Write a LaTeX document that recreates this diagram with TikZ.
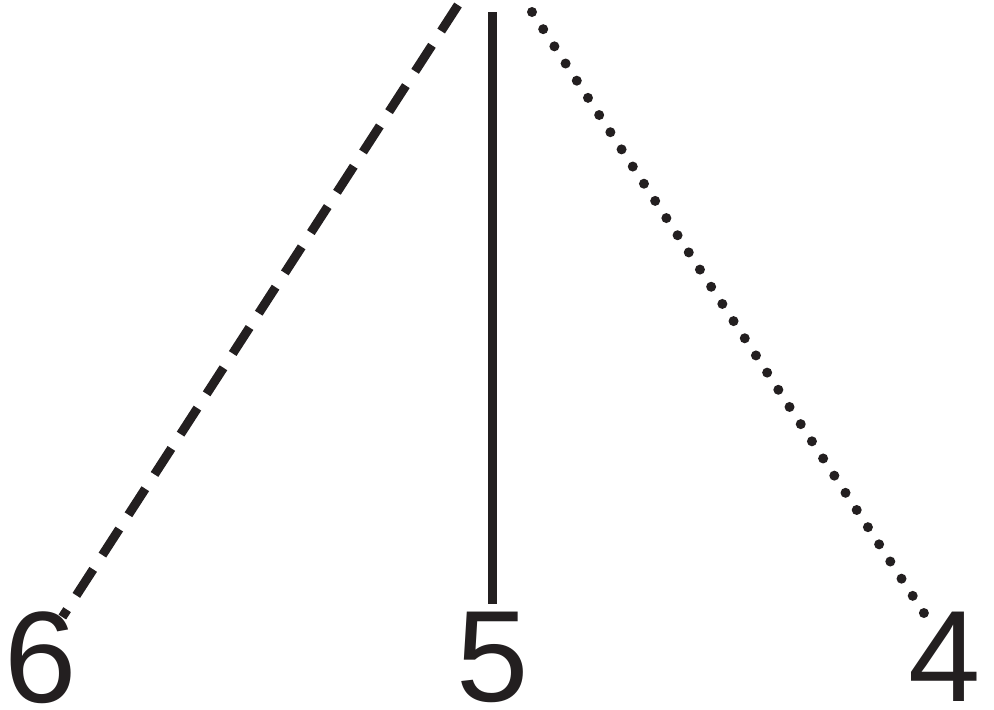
\documentclass[tikz,border=0pt]{standalone}
\usepackage{fontspec}
\setmainfont{Liberation Sans}
\usepackage{xcolor}
\usepackage{tikz}
\usetikzlibrary{calc}
\definecolor{ink}{HTML}{231F20}
\tikzset{
  digit/.style  ={inner sep=0pt,anchor=base,text=ink,
                  font=\fontsize{130}{130}\selectfont},
  solidline/.style ={draw=ink,line width=9pt},
  dashline/.style  ={draw=ink,line width=9pt,dash pattern=on 31pt off 17pt},
  dotline/.style   ={draw=ink,line width=10pt,line cap=round,
                     dash pattern=on 0pt off 20.5pt}
}

\begin{document}
\begin{tikzpicture}[x=1pt,y=-1pt]
    \useasboundingbox (0,0) rectangle (994,710);
    \node[digit] (n6) at (41,702) {6};
    \node[digit] (n5) at (493,701) {5};
    \node[digit] (n4) at (945,701) {4};
    \coordinate (t6) at (458,5);
    \coordinate (t5) at (492,12);
    \coordinate (t4) at (532,12);
    \draw[dashline] (t6) -- ($(n6.north east)+(-15,6)$);
    \draw[solidline] (t5) -- ($(n5.north)+(-1,-7)$);
    \draw[dotline] (t4) -- ($(n4.north west)+(22,12)$);
  \end{tikzpicture}
\end{document}
